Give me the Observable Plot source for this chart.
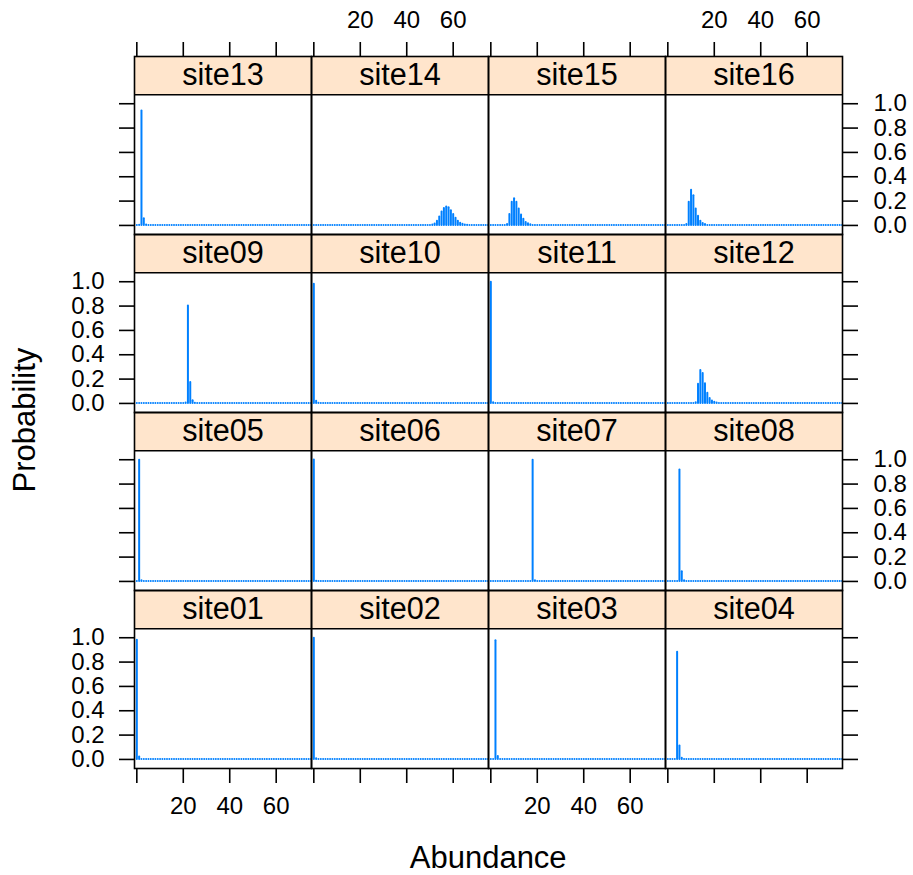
<!DOCTYPE html>
<html>
<head>
<meta charset="utf-8">
<script src="https://cdn.jsdelivr.net/npm/d3@7"></script>
<script src="https://cdn.jsdelivr.net/npm/@observablehq/plot@0.6"></script>
<style>
  html, body { margin: 0; padding: 0; background: white; }
  #chart { position: relative; width: 913px; height: 875px; font-family: "Liberation Sans", Arial, sans-serif; color: black; }
  #chart svg { position: absolute; left: 0; top: 0; display: block; }
  .axtitle { position: absolute; font-size: 31px; line-height: 24px; white-space: nowrap; transform: translate(-50%, -50%); }
  #ylab { transform: translate(-50%, -50%) rotate(-90deg); }
</style>
</head>
<body>
<div id="chart">
  <div id="ylab" class="axtitle">Probability</div>
  <div id="xlab" class="axtitle">Abundance</div>
</div>
<script>
// ---- data (abundance, probability) ----
const sites = ["site01","site02","site03","site04","site05","site06","site07","site08",
               "site09","site10","site11","site12","site13","site14","site15","site16"];
const abundance = d3.range(0, 76);

const site01 = [[0,0.98],[1,0.02]];
const site02 = [[0,0.995],[1,0.005]];
const site03 = [[2,0.975],[3,0.025]];
const site04 = [[4,0.88],[5,0.11],[6,0.01]];
const site05 = [[1,0.995],[2,0.005]];
const site06 = [[0,0.998],[1,0.002]];
const site07 = [[18,0.995],[19,0.005]];
const site08 = [[5,0.915],[6,0.08],[7,0.005]];
const site09 = [[21,0.004],[22,0.80],[23,0.172],[24,0.022],[25,0.002]];
const site10 = [[0,0.98],[1,0.018],[2,0.002]];
const site11 = [[0,0.995],[1,0.005]];
const site12 = [[12,0.005],[13,0.157],[14,0.27],[15,0.246],[16,0.162],[17,0.084],[18,0.04],[19,0.02],[20,0.01],[21,0.004]];
const site13 = [[1,0.002],[2,0.94],[3,0.055],[4,0.003]];
const site14 = [[51,0.003],[52,0.012],[53,0.035],[54,0.07],[55,0.11],[56,0.14],[57,0.152],[58,0.145],[59,0.12],[60,0.09],[61,0.06],[62,0.035],[63,0.018],[64,0.009],[65,0.004],[66,0.002]];
const site15 = [[7,0.008],[8,0.09],[9,0.19],[10,0.22],[11,0.19],[12,0.135],[13,0.086],[14,0.05],[15,0.025],[16,0.013],[17,0.006]];
const site16 = [[8,0.008],[9,0.19],[10,0.29],[11,0.243],[12,0.135],[13,0.076],[14,0.035],[15,0.016],[16,0.007]];
const siteProbs = [site01,site02,site03,site04,site05,site06,site07,site08,
                   site09,site10,site11,site12,site13,site14,site15,site16];

const yTicks = [0, 0.2, 0.4, 0.6, 0.8, 1.0];
const xTicks = [0, 20, 40, 60];
const xTickLabels = [20, 40, 60];

// ---- layout ----
const W = 913, H = 875;
const mLeft = 132.7, mTop = 55, cellW = 177.75, cellH = 178.3, stripPx = 38.3;
const yLo = -0.0745, yHi = 1.074;
const pxPerUnit = (cellH - stripPx) / (yHi - yLo);
const yStripTop = yHi + stripPx / pxPerUnit;
const xLo = -1, xHi = 75.2;
const FONT = '"Liberation Sans", Arial, sans-serif';
const BLUE = "#0080ff", STRIP = "#ffe5cc";

const rowOf = i => 3 - Math.floor(i / 4);
const colOf = i => i % 4;

const table = [];
sites.forEach((name, i) => {
  const m = new Map(siteProbs[i]);
  for (const a of abundance) table.push({site: name, row: rowOf(i), col: colOf(i), a, p: m.get(a) ?? 0});
});
const strips = sites.map((name, i) => ({name, row: rowOf(i), col: colOf(i)}));

const yLabLeft = [1, 3].flatMap(row => yTicks.map(v => ({row, col: 0, v})));
const yLabRight = [0, 2].flatMap(row => yTicks.map(v => ({row, col: 3, v})));
const xLabBottom = [0, 2].flatMap(col => xTickLabels.map(v => ({row: 3, col, v})));
const xLabTop = [1, 3].flatMap(col => xTickLabels.map(v => ({row: 0, col, v})));

const tickOpts = {tickSize: 15, fill: "none", label: null, strokeWidth: 1.6, stroke: "black"};
const tickFont = 24;

const svg = Plot.plot({
  width: W, height: H,
  marginLeft: mLeft, marginTop: mTop,
  marginRight: W - mLeft - 4 * cellW,
  marginBottom: H - mTop - 4 * cellH,
  style: {fontFamily: FONT, background: "white", color: "black", overflow: "visible"},
  fx: {domain: [0, 1, 2, 3], padding: 0, axis: null},
  fy: {domain: [0, 1, 2, 3], padding: 0, axis: null},
  x: {domain: [xLo, xHi]},
  y: {domain: [yLo, yStripTop]},
  marks: [
    Plot.rect(strips, {fx: "col", fy: "row", x1: xLo, x2: xHi, y1: yHi, y2: yStripTop, fill: STRIP}),
    Plot.ruleX(table, {fx: "col", fy: "row", x: "a", y1: 0, y2: "p", stroke: BLUE, strokeWidth: 2, strokeLinecap: "round"}),
    Plot.ruleY([yHi], {stroke: "black", strokeWidth: 1.6}),
    Plot.frame({stroke: "black", strokeWidth: 1.6}),
    Plot.axisY(yTicks, {anchor: "left", ...tickOpts}),
    Plot.axisY(yTicks, {anchor: "right", ...tickOpts}),
    Plot.axisX(xTicks, {anchor: "bottom", ...tickOpts}),
    Plot.axisX(xTicks, {anchor: "top", ...tickOpts}),
    Plot.text(strips, {fx: "col", fy: "row", text: "name", frameAnchor: "top", dy: stripPx / 2, lineAnchor: "middle", fontSize: 30.6, fill: "black"}),
    Plot.text(yLabLeft, {fx: "col", fy: "row", y: "v", text: d => d.v.toFixed(1), frameAnchor: "left", textAnchor: "end", dx: -30, lineAnchor: "middle", fontSize: tickFont, fill: "black"}),
    Plot.text(yLabRight, {fx: "col", fy: "row", y: "v", text: d => d.v.toFixed(1), frameAnchor: "right", textAnchor: "start", dx: 31, lineAnchor: "middle", fontSize: tickFont, fill: "black"}),
    Plot.text(xLabBottom, {fx: "col", fy: "row", x: "v", text: d => String(d.v), frameAnchor: "bottom", lineAnchor: "top", dy: 28.7, fontSize: tickFont, fill: "black"}),
    Plot.text(xLabTop, {fx: "col", fy: "row", x: "v", text: d => String(d.v), frameAnchor: "top", lineAnchor: "bottom", dy: -29, fontSize: tickFont, fill: "black"})
  ]
});
const chart = document.getElementById("chart");
chart.insertBefore(svg, chart.firstChild);

const yl = document.getElementById("ylab");
yl.style.left = "25.3px"; yl.style.top = "420px";
const xl = document.getElementById("xlab");
xl.style.left = (mLeft + 2 * cellW) + "px"; xl.style.top = "857.5px";
</script>
</body>
</html>
